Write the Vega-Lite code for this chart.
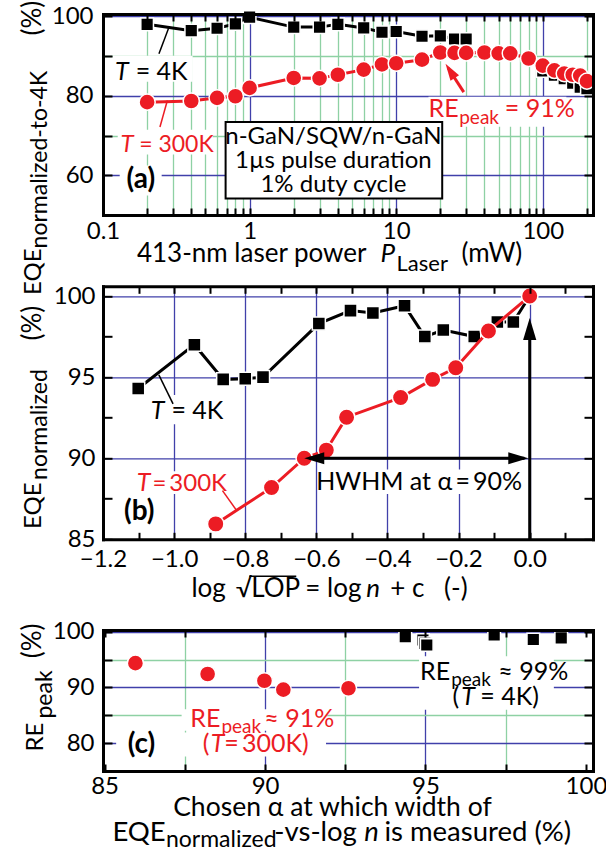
{
"$schema": "https://vega.github.io/schema/vega-lite/v6.json",
"padding": {"left": 20, "top": 0, "right": 4, "bottom": 0},
"config": {"font": "Lato", "view": {"stroke": null}, "axis": {"labelFont": "Lato", "labelFontSize": 24, "labelColor": "black"}},
"spacing": 16,
"bounds": "full",
"vconcat": [
{"spacing": 71.3, "bounds": "flush", "vconcat": [
{
"width": 490, "height": 201,
"resolve": {"axis": {"x": "independent", "y": "independent"}},
"layer": [
{"data": {"values": [{"x":0.13,"x2":0.2513,"y":54.9,"y2":62.44},{"x":0.1164,"x2":0.4088,"y":83.54,"y2":90.08},{"x":0.126,"x2":0.5595,"y":65.2,"y2":71.48},{"x":16.6,"x2":144.8,"y":72.24,"y2":79.77}]},
 "mark": {"type": "rect", "fill": "white"},
 "encoding": {"x": {"field":"x","type":"quantitative","scale":{"type":"log","domain":[0.1,220],"nice":false},"axis":null},"x2":{"field":"x2"},
  "y": {"field":"y","type":"quantitative","scale":{"domain":[50,100.6],"nice":false,"zero":false},"axis":null},"y2":{"field":"y2"}}},
{"data": {"values": [{"x":0.686,"x2":20.6,"y":54.15,"y2":73.42}]},
 "mark": {"type": "rect", "fill": "white", "stroke": "black", "strokeWidth": 2},
 "encoding": {"x": {"field":"x","type":"quantitative","scale":{"type":"log","domain":[0.1,220],"nice":false},"axis":null},"x2":{"field":"x2"},
  "y": {"field":"y","type":"quantitative","scale":{"domain":[50,100.6],"nice":false,"zero":false},"axis":null},"y2":{"field":"y2"}}},
{"data": {"values": [{"x":0.2,"y":98.0,"g":1},{"x":0.4,"y":96.4,"g":1},{"x":0.6,"y":97.0,"g":1},{"x":0.8,"y":98.1,"g":1},{"x":1,"y":99.8,"g":1},{"x":2,"y":97.3,"g":1},{"x":3,"y":97.3,"g":1},{"x":4,"y":98.0,"g":1},{"x":6,"y":97.1,"g":1},{"x":8,"y":96.0,"g":1},{"x":10,"y":96.2,"g":1},{"x":15,"y":95.0,"g":1},{"x":20,"y":95.1,"g":1},{"x":25,"y":94.3,"g":1},{"x":30,"y":94.3,"g":1},{"x":100,"y":86.3,"g":2},{"x":120,"y":85.2,"g":2},{"x":140,"y":84.3,"g":2},{"x":160,"y":83.2,"g":2},{"x":180,"y":82.2,"g":2},{"x":200,"y":81.8,"g":2}]},
 "mark": {"type": "line", "color": "black", "strokeWidth": 3},
 "encoding": {"detail": {"field": "g", "type": "nominal"},
  "x": {"field":"x","type":"quantitative","scale":{"type":"log","domain":[0.1,220],"nice":false},
   "axis":{"orient":"bottom","values":[0.2,0.3,0.4,0.5,0.6,0.7,0.8,0.9,2,3,4,5,6,7,8,9,20,30,40,50,60,70,80,90,200],"grid":true,"gridColor":"#8ed1a4","gridWidth":1.3,"ticks":false,"labels":false,"domain":false,"title":null,"zindex":0}},
  "y": {"field":"y","type":"quantitative","scale":{"domain":[50,100.6],"nice":false,"zero":false},
   "axis":{"orient":"left","values":[70,90],"grid":true,"gridColor":"#8ed1a4","gridWidth":1.3,"ticks":false,"labels":false,"domain":false,"title":null,"zindex":0}}}},
{"data": {"values": [{"x":0.2,"y":98.0},{"x":0.4,"y":96.4},{"x":0.6,"y":97.0},{"x":0.8,"y":98.1},{"x":1,"y":99.8},{"x":2,"y":97.3},{"x":3,"y":97.3},{"x":4,"y":98.0},{"x":6,"y":97.1},{"x":8,"y":96.0},{"x":10,"y":96.2},{"x":15,"y":95.0},{"x":20,"y":95.1},{"x":25,"y":94.3},{"x":30,"y":94.3},{"x":100,"y":86.3},{"x":120,"y":85.2},{"x":140,"y":84.3},{"x":160,"y":83.2},{"x":180,"y":82.2},{"x":200,"y":81.8}]},
 "mark": {"type": "point", "shape": "square", "filled": true, "fill": "black", "stroke": "white", "strokeWidth": 1.5, "size": 160, "opacity": 1},
 "encoding": {"x": {"field":"x","type":"quantitative","scale":{"type":"log","domain":[0.1,220],"nice":false},
   "axis":{"orient":"bottom","values":[0.1,1,10,100],"format":"~g","grid":true,"gridColor":"#4040aa","gridWidth":1.3,"ticks":false,"domain":false,"labels":true,"labelPadding":4,"labelFlush":false,"labelOverlap":false,"title":null,"zindex":0}},
  "y": {"field":"y","type":"quantitative","scale":{"domain":[50,100.6],"nice":false,"zero":false},
   "axis":{"orient":"left","values":[60,80,100],"format":"d","grid":true,"gridColor":"#4040aa","gridWidth":1.3,"ticks":false,"domain":false,"labels":true,"labelPadding":10,"labelOverlap":false,"title":null,"zindex":0}}}},
{"data": {"values": [{"x":0.2,"y":78.4},{"x":0.4,"y":78.7},{"x":0.6,"y":79.5},{"x":0.8,"y":79.9},{"x":1,"y":82.0},{"x":2,"y":84.5},{"x":3,"y":84.4},{"x":4,"y":85.3},{"x":6,"y":86.6},{"x":8,"y":87.9},{"x":10,"y":88.2},{"x":15,"y":89.1},{"x":20,"y":90.9},{"x":25,"y":90.8},{"x":30,"y":90.8},{"x":40,"y":90.9},{"x":50,"y":90.7},{"x":60,"y":90.7},{"x":80,"y":89.4},{"x":100,"y":87.6},{"x":120,"y":86.4},{"x":140,"y":85.6},{"x":160,"y":85.3},{"x":180,"y":85.1},{"x":200,"y":83.7}]},
 "mark": {"type": "line", "color": "#ec1c24", "strokeWidth": 3},
 "encoding": {"x": {"field":"x","type":"quantitative","scale":{"type":"log","domain":[0.1,220],"nice":false},
   "axis":{"orient":"bottom","values":[0.1,0.2,0.3,0.4,0.5,0.6,0.7,0.8,0.9,1,2,3,4,5,6,7,8,9,10,20,30,40,50,60,70,80,90,100,200],"grid":false,"ticks":true,"tickSize":-7,"tickWidth":2,"tickColor":"black","labels":false,"domain":true,"domainColor":"black","domainWidth":3,"domainCap":"square","title":null,"zindex":1}},
  "y": {"field":"y","type":"quantitative","scale":{"domain":[50,100.6],"nice":false,"zero":false},
   "axis":{"orient":"left","values":[60,70,80,90,100],"grid":false,"ticks":true,"tickSize":-9,"tickWidth":2,"tickColor":"black","labels":false,"domain":true,"domainColor":"black","domainWidth":3,"domainCap":"square","title":null,"zindex":1}}}},
{"data": {"values": [{"x":0.2,"y":78.4},{"x":0.4,"y":78.7},{"x":0.6,"y":79.5},{"x":0.8,"y":79.9},{"x":1,"y":82.0},{"x":2,"y":84.5},{"x":3,"y":84.4},{"x":4,"y":85.3},{"x":6,"y":86.6},{"x":8,"y":87.9},{"x":10,"y":88.2},{"x":15,"y":89.1},{"x":20,"y":90.9},{"x":25,"y":90.8},{"x":30,"y":90.8},{"x":40,"y":90.9},{"x":50,"y":90.7},{"x":60,"y":90.7},{"x":80,"y":89.4},{"x":100,"y":87.6},{"x":120,"y":86.4},{"x":140,"y":85.6},{"x":160,"y":85.3},{"x":180,"y":85.1},{"x":200,"y":83.7}]},
 "mark": {"type": "point", "shape": "circle", "filled": true, "fill": "#ec1c24", "stroke": "white", "strokeWidth": 1.5, "size": 260, "opacity": 1},
 "encoding": {"x": {"field":"x","type":"quantitative","scale":{"type":"log","domain":[0.1,220],"nice":false},
   "axis":{"orient":"top","values":[0.1,0.2,0.3,0.4,0.5,0.6,0.7,0.8,0.9,1,2,3,4,5,6,7,8,9,10,20,30,40,50,60,70,80,90,100,200],"grid":false,"ticks":true,"tickSize":-7,"tickWidth":2,"tickColor":"black","labels":false,"domain":true,"domainColor":"black","domainWidth":3,"domainCap":"square","title":null,"zindex":1}},
  "y": {"field":"y","type":"quantitative","scale":{"domain":[50,100.6],"nice":false,"zero":false},
   "axis":{"orient":"right","values":[60,70,80,90,100],"grid":false,"ticks":true,"tickSize":-9,"tickWidth":2,"tickColor":"black","labels":false,"domain":true,"domainColor":"black","domainWidth":3,"domainCap":"square","title":null,"zindex":1}}}},
{"data": {"values": [{"x":0.2818,"y":97.29,"x2":0.2408,"y2":90.58}]},
 "mark": {"type": "rule", "color": "black", "strokeWidth": 1.5},
 "encoding": {"x": {"field":"x","type":"quantitative","scale":{"type":"log","domain":[0.1,220],"nice":false},"axis":null},"x2":{"field":"x2"},
  "y": {"field":"y","type":"quantitative","scale":{"domain":[50,100.6],"nice":false,"zero":false},"axis":null},"y2":{"field":"y2"}}},
{"data": {"values": [{"x":0.2748,"y":78.84,"x2":0.2446,"y2":72.16}]},
 "mark": {"type": "rule", "color": "#ec1c24", "strokeWidth": 1.5},
 "encoding": {"x": {"field":"x","type":"quantitative","scale":{"type":"log","domain":[0.1,220],"nice":false},"axis":null},"x2":{"field":"x2"},
  "y": {"field":"y","type":"quantitative","scale":{"domain":[50,100.6],"nice":false,"zero":false},"axis":null},"y2":{"field":"y2"}}},
{"data": {"values": [{"x":28.9,"y":80.95,"x2":22.6,"y2":87.0}]},
 "mark": {"type": "rule", "color": "#ec1c24", "strokeWidth": 3},
 "encoding": {"x": {"field":"x","type":"quantitative","scale":{"type":"log","domain":[0.1,220],"nice":false},"axis":null},"x2":{"field":"x2"},
  "y": {"field":"y","type":"quantitative","scale":{"domain":[50,100.6],"nice":false,"zero":false},"axis":null},"y2":{"field":"y2"}}},
{"data": {"values": [{"x":21.7,"y":88.07}]},
 "mark": {"type": "point", "shape": "M0,0L-0.6,2L0.6,2Z", "filled": true, "fill": "#ec1c24", "strokeWidth": 0, "size": 289, "angle": 327, "opacity": 1},
 "encoding": {"x": {"field":"x","type":"quantitative","scale":{"type":"log","domain":[0.1,220],"nice":false},"axis":null},
  "y": {"field":"y","type":"quantitative","scale":{"domain":[50,100.6],"nice":false,"zero":false},"axis":null}}},
{"data": {"values": [{"x":0.1496,"y":83.87,"t":"T"}]},
 "mark": {"type": "text", "align": "right", "baseline": "alphabetic", "fontSize": 25, "fontStyle": "italic", "color": "black"},
 "encoding": {"x": {"field":"x","type":"quantitative","scale":{"type":"log","domain":[0.1,220],"nice":false},"axis":null},
  "y": {"field":"y","type":"quantitative","scale":{"domain":[50,100.6],"nice":false,"zero":false},"axis":null},"text":{"field":"t"}}},
{"data": {"values": [{"x":0.1671,"y":83.87,"t":"= 4K"}]},
 "mark": {"type": "text", "align": "left", "baseline": "alphabetic", "fontSize": 25, "color": "black"},
 "encoding": {"x": {"field":"x","type":"quantitative","scale":{"type":"log","domain":[0.1,220],"nice":false},"axis":null},
  "y": {"field":"y","type":"quantitative","scale":{"domain":[50,100.6],"nice":false,"zero":false},"axis":null},"text":{"field":"t"}}},
{"data": {"values": [{"x":0.1617,"y":65.88,"t":"T"}]},
 "mark": {"type": "text", "align": "right", "baseline": "alphabetic", "fontSize": 24, "fontStyle": "italic", "color": "#ec1c24"},
 "encoding": {"x": {"field":"x","type":"quantitative","scale":{"type":"log","domain":[0.1,220],"nice":false},"axis":null},
  "y": {"field":"y","type":"quantitative","scale":{"domain":[50,100.6],"nice":false,"zero":false},"axis":null},"text":{"field":"t"}}},
{"data": {"values": [{"x":0.1765,"y":65.88,"t":"= 300K"}]},
 "mark": {"type": "text", "align": "left", "baseline": "alphabetic", "fontSize": 23, "color": "#ec1c24"},
 "encoding": {"x": {"field":"x","type":"quantitative","scale":{"type":"log","domain":[0.1,220],"nice":false},"axis":null},
  "y": {"field":"y","type":"quantitative","scale":{"domain":[50,100.6],"nice":false,"zero":false},"axis":null},"text":{"field":"t"}}},
{"data": {"values": [{"x":55.0,"y":74.67,"t":"= 91%"}]},
 "mark": {"type": "text", "align": "left", "baseline": "alphabetic", "fontSize": 25, "color": "#ec1c24"},
 "encoding": {"x": {"field":"x","type":"quantitative","scale":{"type":"log","domain":[0.1,220],"nice":false},"axis":null},
  "y": {"field":"y","type":"quantitative","scale":{"domain":[50,100.6],"nice":false,"zero":false},"axis":null},"text":{"field":"t"}}},
{"data": {"values": [{"x":26.7,"y":74.67,"t":"RE"}]},
 "mark": {"type": "text", "align": "right", "baseline": "alphabetic", "fontSize": 25, "color": "#ec1c24"},
 "encoding": {"x": {"field":"x","type":"quantitative","scale":{"type":"log","domain":[0.1,220],"nice":false},"axis":null},
  "y": {"field":"y","type":"quantitative","scale":{"domain":[50,100.6],"nice":false,"zero":false},"axis":null},"text":{"field":"t"}}},
{"data": {"values": [{"x":26.9,"y":72.99,"t":"peak"}]},
 "mark": {"type": "text", "align": "left", "baseline": "alphabetic", "fontSize": 19, "color": "#ec1c24"},
 "encoding": {"x": {"field":"x","type":"quantitative","scale":{"type":"log","domain":[0.1,220],"nice":false},"axis":null},
  "y": {"field":"y","type":"quantitative","scale":{"domain":[50,100.6],"nice":false,"zero":false},"axis":null},"text":{"field":"t"}}},
{"data": {"values": [{"x":0.181,"y":58.74,"t":"(a)"}]},
 "mark": {"type": "text", "align": "center", "baseline": "middle", "fontSize": 28, "fontWeight": "bold", "color": "black"},
 "encoding": {"x": {"field":"x","type":"quantitative","scale":{"type":"log","domain":[0.1,220],"nice":false},"axis":null},
  "y": {"field":"y","type":"quantitative","scale":{"domain":[50,100.6],"nice":false,"zero":false},"axis":null},"text":{"field":"t"}}},
{"data": {"values": [{"x":3.73,"y":69.6,"t":"n-GaN/SQW/n-GaN"},{"x":3.73,"y":63.5,"t":"1µs pulse duration"},{"x":3.73,"y":57.5,"t":"1% duty cycle"}]},
 "mark": {"type": "text", "align": "center", "baseline": "middle", "fontSize": 24, "color": "black"},
 "encoding": {"x": {"field":"x","type":"quantitative","scale":{"type":"log","domain":[0.1,220],"nice":false},"axis":null},
  "y": {"field":"y","type":"quantitative","scale":{"domain":[50,100.6],"nice":false,"zero":false},"axis":null},"text":{"field":"t"}}},
{"data": {"values": [{"x":6.273,"y":38.24,"t":"413-nm laser power"}]},
 "mark": {"type": "text", "align": "right", "baseline": "alphabetic", "fontSize": 26, "color": "black"},
 "encoding": {"x": {"field":"x","type":"quantitative","scale":{"type":"log","domain":[0.1,220],"nice":false},"axis":null},
  "y": {"field":"y","type":"quantitative","scale":{"domain":[50,100.6],"nice":false,"zero":false},"axis":null},"text":{"field":"t"}}},
{"data": {"values": [{"x":7.816,"y":38.24,"t":"P"}]},
 "mark": {"type": "text", "align": "left", "baseline": "alphabetic", "fontSize": 26, "fontStyle": "italic", "color": "black"},
 "encoding": {"x": {"field":"x","type":"quantitative","scale":{"type":"log","domain":[0.1,220],"nice":false},"axis":null},
  "y": {"field":"y","type":"quantitative","scale":{"domain":[50,100.6],"nice":false,"zero":false},"axis":null},"text":{"field":"t"}}},
{"data": {"values": [{"x":10.05,"y":35.88,"t":"Laser"}]},
 "mark": {"type": "text", "align": "left", "baseline": "alphabetic", "fontSize": 22, "color": "black"},
 "encoding": {"x": {"field":"x","type":"quantitative","scale":{"type":"log","domain":[0.1,220],"nice":false},"axis":null},
  "y": {"field":"y","type":"quantitative","scale":{"domain":[50,100.6],"nice":false,"zero":false},"axis":null},"text":{"field":"t"}}},
{"data": {"values": [{"x":27.87,"y":38.24,"t":"(mW)"}]},
 "mark": {"type": "text", "align": "left", "baseline": "alphabetic", "fontSize": 26, "color": "black"},
 "encoding": {"x": {"field":"x","type":"quantitative","scale":{"type":"log","domain":[0.1,220],"nice":false},"axis":null},
  "y": {"field":"y","type":"quantitative","scale":{"domain":[50,100.6],"nice":false,"zero":false},"axis":null},"text":{"field":"t"}}},
{"data": {"values": [{"x":0.03803,"y":29.85,"t":"EQE"}]},
 "mark": {"type": "text", "align": "left", "baseline": "alphabetic", "angle": 270, "fontSize": 24, "color": "black"},
 "encoding": {"x": {"field":"x","type":"quantitative","scale":{"type":"log","domain":[0.1,220],"nice":false},"axis":null},
  "y": {"field":"y","type":"quantitative","scale":{"domain":[50,100.6],"nice":false,"zero":false},"axis":null},"text":{"field":"t"}}},
{"data": {"values": [{"x":0.03803,"y":95.18,"t":"(%)"}]},
 "mark": {"type": "text", "align": "left", "baseline": "alphabetic", "angle": 270, "fontSize": 26, "color": "black"},
 "encoding": {"x": {"field":"x","type":"quantitative","scale":{"type":"log","domain":[0.1,220],"nice":false},"axis":null},
  "y": {"field":"y","type":"quantitative","scale":{"domain":[50,100.6],"nice":false,"zero":false},"axis":null},"text":{"field":"t"}}},
{"data": {"values": [{"x":0.04178,"y":41.58,"t":"normalized-to-4K"}]},
 "mark": {"type": "text", "align": "left", "baseline": "alphabetic", "angle": 270, "fontSize": 23, "color": "black"},
 "encoding": {"x": {"field":"x","type":"quantitative","scale":{"type":"log","domain":[0.1,220],"nice":false},"axis":null},
  "y": {"field":"y","type":"quantitative","scale":{"domain":[50,100.6],"nice":false,"zero":false},"axis":null},"text":{"field":"t"}}}
]
},
{
"width": 490, "height": 253,
"resolve": {"axis": {"x": "independent", "y": "independent"}},
"layer": [
{"data": {"values": [{"x":-0.566,"x2":-0.056,"y":87.8,"y2":89.3},{"x":-1.072,"x2":-0.884,"y":92.1,"y2":93.9},{"x":-1.1115,"x2":-0.85,"y":87.8,"y2":89.2}]},
 "mark": {"type": "rect", "fill": "white"},
 "encoding": {"x": {"field":"x","type":"quantitative","scale":{"domain":[-1.2,0.178],"nice":false,"zero":false},"axis":null},"x2":{"field":"x2"},
  "y": {"field":"y","type":"quantitative","scale":{"domain":[85,100.6],"nice":false,"zero":false},"axis":null},"y2":{"field":"y2"}}},
{"data": {"values": [{"x":-1.101,"y":94.3},{"x":-0.943,"y":97.0},{"x":-0.862,"y":94.86},{"x":-0.8,"y":94.9},{"x":-0.75,"y":95.0},{"x":-0.593,"y":98.3},{"x":-0.504,"y":99.1},{"x":-0.441,"y":98.95},{"x":-0.352,"y":99.4},{"x":-0.295,"y":97.5},{"x":-0.243,"y":97.9},{"x":-0.156,"y":97.5},{"x":-0.091,"y":98.4},{"x":-0.046,"y":98.4},{"x":0,"y":100}]},
 "mark": {"type": "line", "color": "black", "strokeWidth": 3},
 "encoding": {"x": {"field":"x","type":"quantitative","scale":{"domain":[-1.2,0.178],"nice":false,"zero":false},
   "axis":{"orient":"bottom","values":[-1.2,-1,-0.8,-0.6,-0.4,-0.2,0],"format":".1f","grid":true,"gridColor":"#4040aa","gridWidth":1.3,"ticks":false,"domain":false,"labels":true,"labelPadding":8,"labelFlush":false,"labelOverlap":false,"title":null,"zindex":0}},
  "y": {"field":"y","type":"quantitative","scale":{"domain":[85,100.6],"nice":false,"zero":false},
   "axis":{"orient":"left","values":[85,90,95,100],"format":"d","grid":true,"gridColor":"#4040aa","gridWidth":1.3,"ticks":false,"domain":false,"labels":true,"labelPadding":8,"labelOverlap":false,"title":null,"zindex":0}}}},
{"data": {"values": [{"x":-1.101,"y":94.3},{"x":-0.943,"y":97.0},{"x":-0.862,"y":94.86},{"x":-0.8,"y":94.9},{"x":-0.75,"y":95.0},{"x":-0.593,"y":98.3},{"x":-0.504,"y":99.1},{"x":-0.441,"y":98.95},{"x":-0.352,"y":99.4},{"x":-0.295,"y":97.5},{"x":-0.243,"y":97.9},{"x":-0.156,"y":97.5},{"x":-0.091,"y":98.4},{"x":-0.046,"y":98.4},{"x":0,"y":100}]},
 "mark": {"type": "point", "shape": "square", "filled": true, "fill": "black", "stroke": "white", "strokeWidth": 1.5, "size": 170, "opacity": 1},
 "encoding": {"x": {"field":"x","type":"quantitative","scale":{"domain":[-1.2,0.178],"nice":false,"zero":false},
   "axis":{"orient":"bottom","values":[-1.2,-1.1,-1,-0.9,-0.8,-0.7,-0.6,-0.5,-0.4,-0.3,-0.2,-0.1,0,0.1],"grid":false,"ticks":true,"tickSize":-7,"tickWidth":2,"tickColor":"black","labels":false,"domain":true,"domainColor":"black","domainWidth":3,"domainCap":"square","title":null,"zindex":1}},
  "y": {"field":"y","type":"quantitative","scale":{"domain":[85,100.6],"nice":false,"zero":false},
   "axis":{"orient":"left","values":[85,87.5,90,92.5,95,97.5,100],"grid":false,"ticks":true,"tickSize":-9,"tickWidth":2,"tickColor":"black","labels":false,"domain":true,"domainColor":"black","domainWidth":3,"domainCap":"square","title":null,"zindex":1}}}},
{"data": {"values": [{"x":-0.883,"y":85.95},{"x":-0.726,"y":88.19},{"x":-0.634,"y":90.0},{"x":-0.572,"y":90.5},{"x":-0.515,"y":92.53},{"x":-0.363,"y":93.74},{"x":-0.273,"y":94.86},{"x":-0.208,"y":95.58},{"x":-0.116,"y":97.84},{"x":0,"y":100}]},
 "mark": {"type": "line", "color": "#ec1c24", "strokeWidth": 3},
 "encoding": {"x": {"field":"x","type":"quantitative","scale":{"domain":[-1.2,0.178],"nice":false,"zero":false},
   "axis":{"orient":"top","values":[-1.2,-1.1,-1,-0.9,-0.8,-0.7,-0.6,-0.5,-0.4,-0.3,-0.2,-0.1,0,0.1],"grid":false,"ticks":true,"tickSize":-7,"tickWidth":2,"tickColor":"black","labels":false,"domain":true,"domainColor":"black","domainWidth":3,"domainCap":"square","title":null,"zindex":1}},
  "y": {"field":"y","type":"quantitative","scale":{"domain":[85,100.6],"nice":false,"zero":false},
   "axis":{"orient":"right","values":[85,87.5,90,92.5,95,97.5,100],"grid":false,"ticks":true,"tickSize":-9,"tickWidth":2,"tickColor":"black","labels":false,"domain":true,"domainColor":"black","domainWidth":3,"domainCap":"square","title":null,"zindex":1}}}},
{"data": {"values": [{"x":-0.883,"y":85.95},{"x":-0.726,"y":88.19},{"x":-0.634,"y":90.0},{"x":-0.572,"y":90.5},{"x":-0.515,"y":92.53},{"x":-0.363,"y":93.74},{"x":-0.273,"y":94.86},{"x":-0.208,"y":95.58},{"x":-0.116,"y":97.84},{"x":0,"y":100}]},
 "mark": {"type": "point", "shape": "circle", "filled": true, "fill": "#ec1c24", "stroke": "white", "strokeWidth": 1.5, "size": 270, "opacity": 1},
 "encoding": {"x": {"field":"x","type":"quantitative","scale":{"domain":[-1.2,0.178],"nice":false,"zero":false},"axis":null},
  "y": {"field":"y","type":"quantitative","scale":{"domain":[85,100.6],"nice":false,"zero":false},"axis":null}}},
{"data": {"values": [{"x":-0.62,"y":90,"x2":-0.015,"y2":90},{"x":0,"y":85,"x2":0,"y2":97.8}]},
 "mark": {"type": "rule", "color": "black", "strokeWidth": 3},
 "encoding": {"x": {"field":"x","type":"quantitative","scale":{"domain":[-1.2,0.178],"nice":false,"zero":false},"axis":null},"x2":{"field":"x2"},
  "y": {"field":"y","type":"quantitative","scale":{"domain":[85,100.6],"nice":false,"zero":false},"axis":null},"y2":{"field":"y2"}}},
{"data": {"values": [{"x":-1.043,"y":95.14,"x2":-1.003,"y2":93.35},{"x":-0.7885,"y":82.72,"x2":-0.6565,"y2":82.72}]},
 "mark": {"type": "rule", "color": "black", "strokeWidth": 1.5},
 "encoding": {"x": {"field":"x","type":"quantitative","scale":{"domain":[-1.2,0.178],"nice":false,"zero":false},"axis":null},"x2":{"field":"x2"},
  "y": {"field":"y","type":"quantitative","scale":{"domain":[85,100.6],"nice":false,"zero":false},"axis":null},"y2":{"field":"y2"}}},
{"data": {"values": [{"x":-0.864,"y":88.0,"x2":-0.824,"y2":86.77}]},
 "mark": {"type": "rule", "color": "#ec1c24", "strokeWidth": 1.5},
 "encoding": {"x": {"field":"x","type":"quantitative","scale":{"domain":[-1.2,0.178],"nice":false,"zero":false},"axis":null},"x2":{"field":"x2"},
  "y": {"field":"y","type":"quantitative","scale":{"domain":[85,100.6],"nice":false,"zero":false},"axis":null},"y2":{"field":"y2"}}},
{"data": {"values": [{"x":-0.634,"y":90}]},
 "mark": {"type": "point", "shape": "M0,0L2,-0.6L2,0.6Z", "filled": true, "fill": "black", "strokeWidth": 0, "size": 400, "opacity": 1},
 "encoding": {"x": {"field":"x","type":"quantitative","scale":{"domain":[-1.2,0.178],"nice":false,"zero":false},"axis":null},
  "y": {"field":"y","type":"quantitative","scale":{"domain":[85,100.6],"nice":false,"zero":false},"axis":null}}},
{"data": {"values": [{"x":-0.004,"y":90}]},
 "mark": {"type": "point", "shape": "M0,0L-2,-0.6L-2,0.6Z", "filled": true, "fill": "black", "strokeWidth": 0, "size": 400, "opacity": 1},
 "encoding": {"x": {"field":"x","type":"quantitative","scale":{"domain":[-1.2,0.178],"nice":false,"zero":false},"axis":null},
  "y": {"field":"y","type":"quantitative","scale":{"domain":[85,100.6],"nice":false,"zero":false},"axis":null}}},
{"data": {"values": [{"x":0,"y":98.65}]},
 "mark": {"type": "point", "shape": "M0,0L-0.6,2L0.6,2Z", "filled": true, "fill": "black", "strokeWidth": 0, "size": 484, "opacity": 1},
 "encoding": {"x": {"field":"x","type":"quantitative","scale":{"domain":[-1.2,0.178],"nice":false,"zero":false},"axis":null},
  "y": {"field":"y","type":"quantitative","scale":{"domain":[85,100.6],"nice":false,"zero":false},"axis":null}}},
{"data": {"values": [{"x":-0.311,"y":88.54,"t":"HWHM at α\u2009=\u200990%"}]},
 "mark": {"type": "text", "align": "center", "baseline": "middle", "fontSize": 25, "color": "black"},
 "encoding": {"x": {"field":"x","type":"quantitative","scale":{"domain":[-1.2,0.178],"nice":false,"zero":false},"axis":null},
  "y": {"field":"y","type":"quantitative","scale":{"domain":[85,100.6],"nice":false,"zero":false},"axis":null},"text":{"field":"t"}}},
{"data": {"values": [{"x":-1.0272,"y":92.43,"t":"T"}]},
 "mark": {"type": "text", "align": "right", "baseline": "alphabetic", "fontSize": 25, "fontStyle": "italic", "color": "black"},
 "encoding": {"x": {"field":"x","type":"quantitative","scale":{"domain":[-1.2,0.178],"nice":false,"zero":false},"axis":null},
  "y": {"field":"y","type":"quantitative","scale":{"domain":[85,100.6],"nice":false,"zero":false},"axis":null},"text":{"field":"t"}}},
{"data": {"values": [{"x":-1.0076,"y":92.43,"t":"= 4K"}]},
 "mark": {"type": "text", "align": "left", "baseline": "alphabetic", "fontSize": 25, "color": "black"},
 "encoding": {"x": {"field":"x","type":"quantitative","scale":{"domain":[-1.2,0.178],"nice":false,"zero":false},"axis":null},
  "y": {"field":"y","type":"quantitative","scale":{"domain":[85,100.6],"nice":false,"zero":false},"axis":null},"text":{"field":"t"}}},
{"data": {"values": [{"x":-1.0666,"y":88.0,"t":"T"}]},
 "mark": {"type": "text", "align": "right", "baseline": "alphabetic", "fontSize": 25, "fontStyle": "italic", "color": "#ec1c24"},
 "encoding": {"x": {"field":"x","type":"quantitative","scale":{"domain":[-1.2,0.178],"nice":false,"zero":false},"axis":null},
  "y": {"field":"y","type":"quantitative","scale":{"domain":[85,100.6],"nice":false,"zero":false},"axis":null},"text":{"field":"t"}}},
{"data": {"values": [{"x":-1.061,"y":88.0,"t":"=\u2009300K"}]},
 "mark": {"type": "text", "align": "left", "baseline": "alphabetic", "fontSize": 24, "color": "#ec1c24"},
 "encoding": {"x": {"field":"x","type":"quantitative","scale":{"domain":[-1.2,0.178],"nice":false,"zero":false},"axis":null},
  "y": {"field":"y","type":"quantitative","scale":{"domain":[85,100.6],"nice":false,"zero":false},"axis":null},"text":{"field":"t"}}},
{"data": {"values": [{"x":-1.098,"y":86.7,"t":"(b)"}]},
 "mark": {"type": "text", "align": "center", "baseline": "middle", "fontSize": 28, "fontWeight": "bold", "color": "black"},
 "encoding": {"x": {"field":"x","type":"quantitative","scale":{"domain":[-1.2,0.178],"nice":false,"zero":false},"axis":null},
  "y": {"field":"y","type":"quantitative","scale":{"domain":[85,100.6],"nice":false,"zero":false},"axis":null},"text":{"field":"t"}}},
{"data": {"values": [{"x":-0.9514,"y":81.42,"t":"log"},{"x":-0.8264,"y":81.42,"t":"√"},{"x":-0.7829,"y":81.42,"t":"LOP"},{"x":-0.3924,"y":81.42,"t":"+ c"},{"x":-0.2407,"y":81.42,"t":"(-)"}]},
 "mark": {"type": "text", "align": "left", "baseline": "alphabetic", "fontSize": 26, "color": "black"},
 "encoding": {"x": {"field":"x","type":"quantitative","scale":{"domain":[-1.2,0.178],"nice":false,"zero":false},"axis":null},
  "y": {"field":"y","type":"quantitative","scale":{"domain":[85,100.6],"nice":false,"zero":false},"axis":null},"text":{"field":"t"}}},
{"data": {"values": [{"x":-0.4733,"y":81.42,"t":"= log"}]},
 "mark": {"type": "text", "align": "right", "baseline": "alphabetic", "fontSize": 26, "color": "black"},
 "encoding": {"x": {"field":"x","type":"quantitative","scale":{"domain":[-1.2,0.178],"nice":false,"zero":false},"axis":null},
  "y": {"field":"y","type":"quantitative","scale":{"domain":[85,100.6],"nice":false,"zero":false},"axis":null},"text":{"field":"t"}}},
{"data": {"values": [{"x":-0.4598,"y":81.42,"t":"n"}]},
 "mark": {"type": "text", "align": "left", "baseline": "alphabetic", "fontSize": 26, "fontStyle": "italic", "color": "black"},
 "encoding": {"x": {"field":"x","type":"quantitative","scale":{"domain":[-1.2,0.178],"nice":false,"zero":false},"axis":null},
  "y": {"field":"y","type":"quantitative","scale":{"domain":[85,100.6],"nice":false,"zero":false},"axis":null},"text":{"field":"t"}}},
{"data": {"values": [{"x":-1.374,"y":85.64,"t":"EQE"}]},
 "mark": {"type": "text", "align": "left", "baseline": "alphabetic", "angle": 270, "fontSize": 24, "color": "black"},
 "encoding": {"x": {"field":"x","type":"quantitative","scale":{"domain":[-1.2,0.178],"nice":false,"zero":false},"axis":null},
  "y": {"field":"y","type":"quantitative","scale":{"domain":[85,100.6],"nice":false,"zero":false},"axis":null},"text":{"field":"t"}}},
{"data": {"values": [{"x":-1.374,"y":97.26,"t":"(%)"}]},
 "mark": {"type": "text", "align": "left", "baseline": "alphabetic", "angle": 270, "fontSize": 26, "color": "black"},
 "encoding": {"x": {"field":"x","type":"quantitative","scale":{"domain":[-1.2,0.178],"nice":false,"zero":false},"axis":null},
  "y": {"field":"y","type":"quantitative","scale":{"domain":[85,100.6],"nice":false,"zero":false},"axis":null},"text":{"field":"t"}}},
{"data": {"values": [{"x":-1.357,"y":88.66,"t":"normalized"}]},
 "mark": {"type": "text", "align": "left", "baseline": "alphabetic", "angle": 270, "fontSize": 23, "color": "black"},
 "encoding": {"x": {"field":"x","type":"quantitative","scale":{"domain":[-1.2,0.178],"nice":false,"zero":false},"axis":null},
  "y": {"field":"y","type":"quantitative","scale":{"domain":[85,100.6],"nice":false,"zero":false},"axis":null},"text":{"field":"t"}}}
]
}
]},
{
"width": 490, "height": 141,
"resolve": {"axis": {"x": "independent", "y": "independent"}},
"layer": [
{"data": {"values": [{"x":94.8,"x2":99.0,"y":86.0,"y2":95.6},{"x":87.4,"x2":91.9,"y":82.2,"y2":86.1},{"x":85.36,"x2":91.9,"y":77.6,"y2":81.9}]},
 "mark": {"type": "rect", "fill": "white"},
 "encoding": {"x": {"field":"x","type":"quantitative","scale":{"domain":[84.95,100.22],"nice":false,"zero":false},"axis":null},"x2":{"field":"x2"},
  "y": {"field":"y","type":"quantitative","scale":{"domain":[75,100.3],"nice":false,"zero":false},"axis":null},"y2":{"field":"y2"}}},
{"data": {"values": [{"x":94.37,"y":99.1},{"x":94.92,"y":98.5},{"x":94.98,"y":97.9},{"x":95.04,"y":97.6},{"x":97.14,"y":99.4},{"x":98.36,"y":98.6},{"x":99.23,"y":98.9}]},
 "mark": {"type": "point", "shape": "square", "filled": true, "fill": "black", "stroke": "white", "strokeWidth": 1.5, "size": 160, "opacity": 1},
 "encoding": {"x": {"field":"x","type":"quantitative","scale":{"domain":[84.95,100.22],"nice":false,"zero":false},
   "axis":{"orient":"bottom","values":[85,90,95,100],"format":"d","grid":false,"ticks":false,"domain":false,"labels":true,"labelPadding":3,"labelFlush":false,"labelOverlap":false,"title":null,"zindex":0}},
  "y": {"field":"y","type":"quantitative","scale":{"domain":[75,100.3],"nice":false,"zero":false},
   "axis":{"orient":"left","values":[80,90,100],"format":"d","grid":true,"gridColor":"#4040aa","gridWidth":1.3,"ticks":false,"domain":false,"labels":true,"labelPadding":9,"labelOverlap":false,"title":null,"zindex":0}}}},
{"data": {"values": [{"x":85.96,"y":94.35},{"x":88.21,"y":92.4},{"x":89.98,"y":91.2},{"x":90.57,"y":89.6},{"x":92.6,"y":89.85}]},
 "mark": {"type": "point", "shape": "circle", "filled": true, "fill": "#ec1c24", "stroke": "white", "strokeWidth": 1.5, "size": 260, "opacity": 1},
 "encoding": {"x": {"field":"x","type":"quantitative","scale":{"domain":[84.95,100.22],"nice":false,"zero":false},
   "axis":{"orient":"bottom","values":[90,95],"grid":true,"gridColor":"#4040aa","gridWidth":1.3,"ticks":false,"labels":false,"domain":false,"title":null,"zindex":0}},
  "y": {"field":"y","type":"quantitative","scale":{"domain":[75,100.3],"nice":false,"zero":false},
   "axis":{"orient":"left","values":[85,95],"grid":true,"gridColor":"#8ed1a4","gridWidth":1.3,"ticks":false,"labels":false,"domain":false,"title":null,"zindex":0}}}},
{"data": {"values": [{"x":96.707,"y":86.92,"t":"= 4K)"},{"x":97.268,"y":91.34,"t":"≈ 99%"}]},
 "mark": {"type": "text", "align": "left", "baseline": "alphabetic", "fontSize": 25, "color": "black"},
 "encoding": {"x": {"field":"x","type":"quantitative","scale":{"domain":[84.95,100.22],"nice":false,"zero":false},
   "axis":{"orient":"bottom","values":[87.5,92.5,97.5],"grid":true,"gridColor":"#8ed1a4","gridWidth":1.3,"ticks":false,"labels":false,"domain":false,"title":null,"zindex":0}},
  "y": {"field":"y","type":"quantitative","scale":{"domain":[75,100.3],"nice":false,"zero":false},"axis":null},"text":{"field":"t"}}},
{"data": {"values": [{"x":95.766,"y":91.34,"t":"RE"},{"x":96.05,"y":86.92,"t":"("}]},
 "mark": {"type": "text", "align": "right", "baseline": "alphabetic", "fontSize": 25, "color": "black"},
 "encoding": {"x": {"field":"x","type":"quantitative","scale":{"domain":[84.95,100.22],"nice":false,"zero":false},
   "axis":{"orient":"bottom","values":[85,87.5,90,92.5,95,97.5,100],"grid":false,"ticks":true,"tickSize":-7,"tickWidth":2,"tickColor":"black","labels":false,"domain":true,"domainColor":"black","domainWidth":3,"domainCap":"square","title":null,"zindex":1}},
  "y": {"field":"y","type":"quantitative","scale":{"domain":[75,100.3],"nice":false,"zero":false},
   "axis":{"orient":"left","values":[80,85,90,95,100],"grid":false,"ticks":true,"tickSize":-9,"tickWidth":2,"tickColor":"black","labels":false,"domain":true,"domainColor":"black","domainWidth":3,"domainCap":"square","title":null,"zindex":1}},"text":{"field":"t"}}},
{"data": {"values": [{"x":95.8,"y":90.32,"t":"peak"}]},
 "mark": {"type": "text", "align": "left", "baseline": "alphabetic", "fontSize": 19, "color": "black"},
 "encoding": {"x": {"field":"x","type":"quantitative","scale":{"domain":[84.95,100.22],"nice":false,"zero":false},
   "axis":{"orient":"top","values":[85,87.5,90,92.5,95,97.5,100],"grid":false,"ticks":true,"tickSize":-7,"tickWidth":2,"tickColor":"black","labels":false,"domain":true,"domainColor":"black","domainWidth":3,"domainCap":"square","title":null,"zindex":1}},
  "y": {"field":"y","type":"quantitative","scale":{"domain":[75,100.3],"nice":false,"zero":false},
   "axis":{"orient":"right","values":[80,85,90,95,100],"grid":false,"ticks":true,"tickSize":-9,"tickWidth":2,"tickColor":"black","labels":false,"domain":true,"domainColor":"black","domainWidth":3,"domainCap":"square","title":null,"zindex":1}},"text":{"field":"t"}}},
{"data": {"values": [{"x":96.115,"y":86.92,"t":"T"}]},
 "mark": {"type": "text", "align": "left", "baseline": "alphabetic", "fontSize": 25, "fontStyle": "italic", "color": "black"},
 "encoding": {"x": {"field":"x","type":"quantitative","scale":{"domain":[84.95,100.22],"nice":false,"zero":false},"axis":null},
  "y": {"field":"y","type":"quantitative","scale":{"domain":[75,100.3],"nice":false,"zero":false},"axis":null},"text":{"field":"t"}}},
{"data": {"values": [{"x":88.607,"y":82.97,"t":"RE"},{"x":88.265,"y":78.49,"t":"("}]},
 "mark": {"type": "text", "align": "right", "baseline": "alphabetic", "fontSize": 25, "color": "#ec1c24"},
 "encoding": {"x": {"field":"x","type":"quantitative","scale":{"domain":[84.95,100.22],"nice":false,"zero":false},"axis":null},
  "y": {"field":"y","type":"quantitative","scale":{"domain":[75,100.3],"nice":false,"zero":false},"axis":null},"text":{"field":"t"}}},
{"data": {"values": [{"x":88.64,"y":81.9,"t":"peak"}]},
 "mark": {"type": "text", "align": "left", "baseline": "alphabetic", "fontSize": 19, "color": "#ec1c24"},
 "encoding": {"x": {"field":"x","type":"quantitative","scale":{"domain":[84.95,100.22],"nice":false,"zero":false},"axis":null},
  "y": {"field":"y","type":"quantitative","scale":{"domain":[75,100.3],"nice":false,"zero":false},"axis":null},"text":{"field":"t"}}},
{"data": {"values": [{"x":89.978,"y":82.97,"t":"≈ 91%"},{"x":88.73,"y":78.49,"t":"=\u2009300K)"}]},
 "mark": {"type": "text", "align": "left", "baseline": "alphabetic", "fontSize": 25, "color": "#ec1c24"},
 "encoding": {"x": {"field":"x","type":"quantitative","scale":{"domain":[84.95,100.22],"nice":false,"zero":false},"axis":null},
  "y": {"field":"y","type":"quantitative","scale":{"domain":[75,100.3],"nice":false,"zero":false},"axis":null},"text":{"field":"t"}}},
{"data": {"values": [{"x":88.31,"y":78.49,"t":"T"}]},
 "mark": {"type": "text", "align": "left", "baseline": "alphabetic", "fontSize": 25, "fontStyle": "italic", "color": "#ec1c24"},
 "encoding": {"x": {"field":"x","type":"quantitative","scale":{"domain":[84.95,100.22],"nice":false,"zero":false},"axis":null},
  "y": {"field":"y","type":"quantitative","scale":{"domain":[75,100.3],"nice":false,"zero":false},"axis":null},"text":{"field":"t"}}},
{"data": {"values": [{"x":86.15,"y":79.7,"t":"(c)"}]},
 "mark": {"type": "text", "align": "center", "baseline": "middle", "fontSize": 28, "fontWeight": "bold", "color": "black"},
 "encoding": {"x": {"field":"x","type":"quantitative","scale":{"domain":[84.95,100.22],"nice":false,"zero":false},"axis":null},
  "y": {"field":"y","type":"quantitative","scale":{"domain":[75,100.3],"nice":false,"zero":false},"axis":null},"text":{"field":"t"}}},
{"data": {"values": [{"x":92.1,"y":67.0,"t":"Chosen α at which width of"}]},
 "mark": {"type": "text", "align": "center", "baseline": "alphabetic", "fontSize": 26.5, "color": "black"},
 "encoding": {"x": {"field":"x","type":"quantitative","scale":{"domain":[84.95,100.22],"nice":false,"zero":false},"axis":null},
  "y": {"field":"y","type":"quantitative","scale":{"domain":[75,100.3],"nice":false,"zero":false},"axis":null},"text":{"field":"t"}}},
{"data": {"values": [{"x":85.243,"y":62.45,"t":"EQE"},{"x":90.29,"y":62.45,"t":"-vs-log"},{"x":93.72,"y":62.45,"t":"is measured (%)"}]},
 "mark": {"type": "text", "align": "left", "baseline": "alphabetic", "fontSize": 27.5, "color": "black"},
 "encoding": {"x": {"field":"x","type":"quantitative","scale":{"domain":[84.95,100.22],"nice":false,"zero":false},"axis":null},
  "y": {"field":"y","type":"quantitative","scale":{"domain":[75,100.3],"nice":false,"zero":false},"axis":null},"text":{"field":"t"}}},
{"data": {"values": [{"x":86.91,"y":61.3,"t":"normalized"}]},
 "mark": {"type": "text", "align": "left", "baseline": "alphabetic", "fontSize": 23, "color": "black"},
 "encoding": {"x": {"field":"x","type":"quantitative","scale":{"domain":[84.95,100.22],"nice":false,"zero":false},"axis":null},
  "y": {"field":"y","type":"quantitative","scale":{"domain":[75,100.3],"nice":false,"zero":false},"axis":null},"text":{"field":"t"}}},
{"data": {"values": [{"x":93.09,"y":62.45,"t":"n"}]},
 "mark": {"type": "text", "align": "left", "baseline": "alphabetic", "fontSize": 27.5, "fontStyle": "italic", "color": "black"},
 "encoding": {"x": {"field":"x","type":"quantitative","scale":{"domain":[84.95,100.22],"nice":false,"zero":false},"axis":null},
  "y": {"field":"y","type":"quantitative","scale":{"domain":[75,100.3],"nice":false,"zero":false},"axis":null},"text":{"field":"t"}}},
{"data": {"values": [{"x":83.093,"y":78.49,"t":"RE"}]},
 "mark": {"type": "text", "align": "left", "baseline": "alphabetic", "angle": 270, "fontSize": 24, "color": "black"},
 "encoding": {"x": {"field":"x","type":"quantitative","scale":{"domain":[84.95,100.22],"nice":false,"zero":false},"axis":null},
  "y": {"field":"y","type":"quantitative","scale":{"domain":[75,100.3],"nice":false,"zero":false},"axis":null},"text":{"field":"t"}}},
{"data": {"values": [{"x":83.022,"y":95.22,"t":"(%)"}]},
 "mark": {"type": "text", "align": "left", "baseline": "alphabetic", "angle": 270, "fontSize": 26, "color": "black"},
 "encoding": {"x": {"field":"x","type":"quantitative","scale":{"domain":[84.95,100.22],"nice":false,"zero":false},"axis":null},
  "y": {"field":"y","type":"quantitative","scale":{"domain":[75,100.3],"nice":false,"zero":false},"axis":null},"text":{"field":"t"}}},
{"data": {"values": [{"x":83.374,"y":84.41,"t":"peak"}]},
 "mark": {"type": "text", "align": "left", "baseline": "alphabetic", "angle": 270, "fontSize": 23, "color": "black"},
 "encoding": {"x": {"field":"x","type":"quantitative","scale":{"domain":[84.95,100.22],"nice":false,"zero":false},"axis":null},
  "y": {"field":"y","type":"quantitative","scale":{"domain":[75,100.3],"nice":false,"zero":false},"axis":null},"text":{"field":"t"}}}
]
}
]
}
